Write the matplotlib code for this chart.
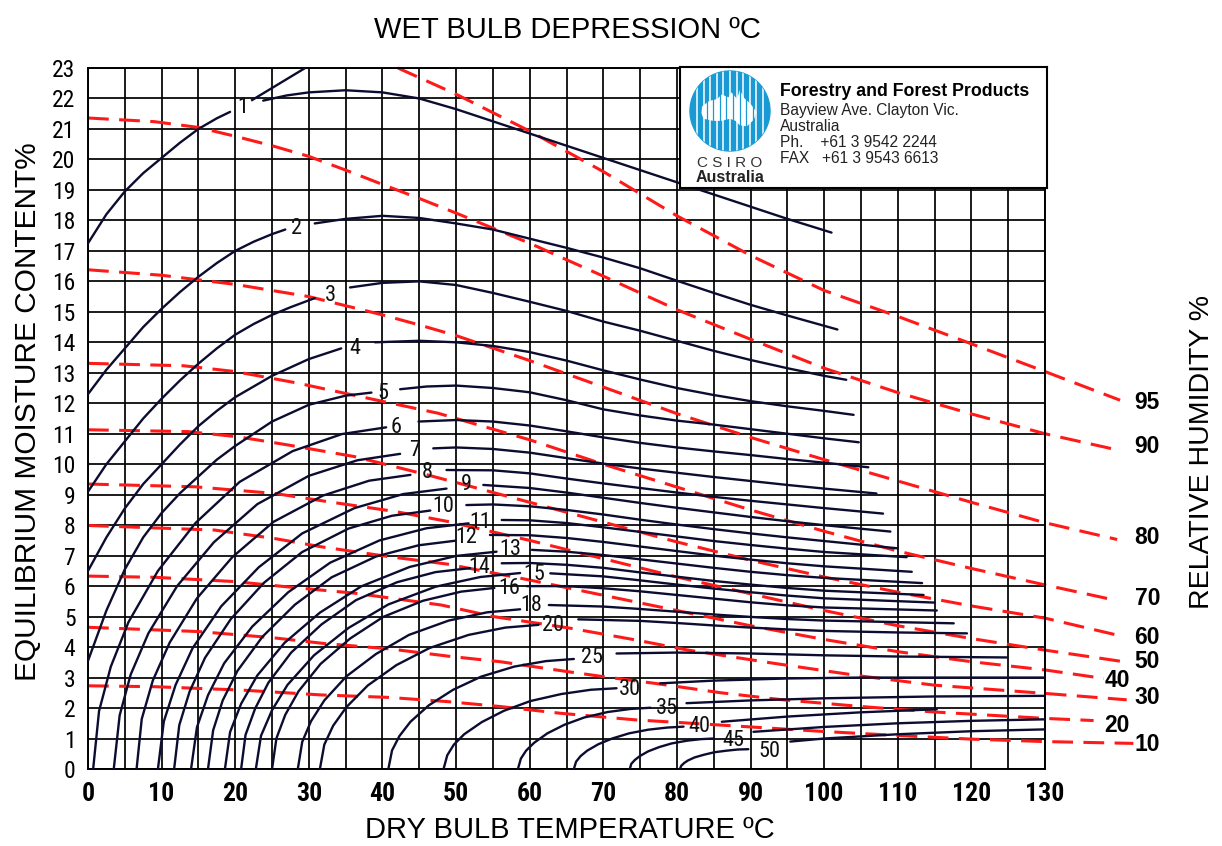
import matplotlib
matplotlib.use("Agg")
import matplotlib.pyplot as plt
from matplotlib import font_manager
from matplotlib.patches import Circle, Polygon
import numpy as np

# wet bulb depression curves, (dry bulb degC, EMC %); each curve is split
# where its number label sits: *_rise runs up to the label, *_fall after it
wb01_rise = [(0, 17.25), (2.5, 18.2), (5, 18.95), (7.5, 19.55), (10, 20.05), (12.5, 20.55),
             (15, 21.0), (17.5, 21.35), (19.3, 21.56)]
wb01_fall = [(23.8, 21.93), (27, 22.1), (30, 22.2), (35, 22.27), (40, 22.2), (45, 22.0),
             (50, 21.65), (55, 21.25), (60, 20.85), (65, 20.45), (70, 20.05), (75, 19.65),
             (80, 19.25), (85, 18.85), (90, 18.45), (95, 18.05), (101, 17.6)]
wb01_spur = [(22.3, 21.95), (29.5, 23.0)]
wb02_rise = [(0, 12.3), (2.5, 13.1), (5, 13.8), (7.5, 14.5), (10, 15.1), (12.5, 15.65), (15, 16.15),
             (17.5, 16.6), (20, 17.0), (22.5, 17.3), (25, 17.55), (26.8, 17.7)]
wb02_fall = [(30.8, 17.9), (35, 18.05), (40, 18.15), (45, 18.08), (50, 17.9), (55, 17.7), (60, 17.4),
             (65, 17.1), (70, 16.78), (75, 16.43), (80, 16.02), (85, 15.62), (90, 15.23),
             (95, 14.88), (101.8, 14.42)]
wb03_rise = [(0, 9.1), (2.5, 10.0), (5, 10.75), (7.5, 11.5), (10, 12.15), (12.5, 12.75), (15, 13.3),
             (17.5, 13.8), (20, 14.25), (22.5, 14.6), (25, 14.9), (27.5, 15.15), (30.8, 15.45)]
wb03_fall = [(35.6, 15.8), (40, 15.95), (45, 16.0), (50, 15.88), (55, 15.62), (60, 15.33),
             (65, 15.03), (70, 14.68), (75, 14.38), (80, 14.05), (85, 13.72), (90, 13.42),
             (95, 13.15), (100, 12.9), (103, 12.77)]
wb04_rise = [(0, 6.5), (2.5, 7.6), (5, 8.55), (7.5, 9.35), (10, 10.0), (12.5, 10.65), (15, 11.25),
             (17.5, 11.75), (20, 12.2), (25, 12.9), (30, 13.45), (34.4, 13.8)]
wb04_fall = [(39, 14.0), (45, 14.05), (50, 14.0), (55, 13.88), (60, 13.68), (65, 13.4), (70, 13.08),
             (75, 12.78), (80, 12.5), (85, 12.27), (90, 12.07), (95, 11.9), (100, 11.75), (104, 11.62)]
wb05_rise = [(0, 3.55), (2.5, 5.2), (5, 6.55), (7.5, 7.6), (10, 8.4), (12.5, 9.05), (15, 9.6),
             (17.5, 10.15), (20, 10.6), (25, 11.4), (30, 11.95), (35, 12.25), (38.5, 12.35)]
wb05_fall = [(42.4, 12.46), (46, 12.55), (50, 12.58), (55, 12.5), (60, 12.36), (65, 12.1), (70, 11.8),
             (75, 11.6), (80, 11.43), (85, 11.3), (90, 11.15), (95, 11.0), (100, 10.85), (104.7, 10.72)]
wb06_rise = [(0.7, 0), (1.5, 1.9), (3.1, 3.36), (5.5, 4.82), (9.5, 6.5), (14.6, 8.07), (20.6, 9.42),
             (27.8, 10.43), (34.5, 10.99), (40.5, 11.21)]
wb06_fall = [(44.9, 11.4), (50, 11.45), (55, 11.4), (60, 11.27), (65, 11.08), (70, 10.88), (75, 10.7),
             (80, 10.55), (85, 10.42), (90, 10.3), (95, 10.17), (100, 10.05), (106, 9.9)]
wb07_rise = [(3.5, 0), (4.3, 1.76), (5.8, 3.1), (8.2, 4.45), (12.1, 6.0), (17.1, 7.44), (23.0, 8.69),
             (30.0, 9.62), (36.6, 10.13), (42.4, 10.34)]
wb07_fall = [(46.9, 10.52), (50, 10.55), (55, 10.5), (60, 10.38), (65, 10.2), (70, 10.02), (75, 9.86),
             (80, 9.72), (85, 9.58), (90, 9.45), (95, 9.32), (100, 9.2), (107.1, 9.04)]
wb08_rise = [(6.6, 0), (7.3, 1.64), (8.8, 2.9), (11.1, 4.15), (14.8, 5.6), (19.6, 6.95), (25.2, 8.11),
             (31.9, 8.97), (38.2, 9.46), (43.8, 9.65)]
wb08_fall = [(48.7, 9.81), (55, 9.8), (60, 9.7), (65, 9.53), (70, 9.37), (75, 9.22), (80, 9.07),
             (85, 8.93), (90, 8.8), (95, 8.68), (100, 8.56), (108, 8.38)]
wb09_rise = [(9.5, 0), (10.3, 1.56), (11.9, 2.76), (14.2, 3.96), (18.1, 5.34), (23.2, 6.62),
             (29.1, 7.73), (36.2, 8.56), (42.8, 9.02), (48.7, 9.2)]
wb09_fall = [(53.7, 9.32), (60, 9.22), (65, 9.07), (70, 8.9), (75, 8.73), (80, 8.57), (85, 8.42),
             (90, 8.27), (95, 8.13), (100, 8.0), (109, 7.79)]
wb10_rise = [(11.7, 0), (12.4, 1.44), (13.8, 2.54), (15.9, 3.65), (19.4, 4.92), (23.9, 6.11),
             (29.1, 7.12), (35.4, 7.89), (41.3, 8.31), (46.5, 8.48)]
wb10_fall = [(51.4, 8.66), (55, 8.68), (60, 8.62), (65, 8.5), (70, 8.35), (75, 8.18), (80, 8.02),
             (85, 7.87), (90, 7.73), (95, 7.6), (100, 7.48), (110, 7.24)]
wb11_rise = [(14.0, 0), (14.8, 1.37), (16.3, 2.42), (18.5, 3.47), (22.3, 4.67), (27.2, 5.8),
             (32.9, 6.77), (39.6, 7.5), (46.0, 7.9), (51.7, 8.06)]
wb11_fall = [(56.2, 8.17), (60, 8.16), (65, 8.07), (70, 7.93), (75, 7.78), (80, 7.63), (85, 7.48),
             (90, 7.35), (95, 7.23), (100, 7.12), (111.2, 6.95)]
wb12_rise = [(16.3, 0), (17.0, 1.27), (18.3, 2.25), (20.3, 3.22), (23.7, 4.34), (28.1, 5.39),
             (33.1, 6.29), (39.1, 6.97), (44.9, 7.34), (49.9, 7.49)]
wb12_fall = [(54.6, 7.68), (60, 7.67), (65, 7.58), (70, 7.45), (75, 7.3), (80, 7.15), (85, 7.0),
             (90, 6.87), (95, 6.75), (100, 6.65), (111.9, 6.47)]
wb13_rise = [(18.6, 0), (19.3, 1.21), (20.8, 2.14), (23.0, 3.07), (26.7, 4.14), (31.5, 5.13),
             (37.1, 5.99), (43.7, 6.63), (50.0, 6.99), (55.5, 7.13)]
wb13_fall = [(60.3, 7.19), (65, 7.13), (70, 7.02), (75, 6.88), (80, 6.74), (85, 6.6), (90, 6.47),
             (95, 6.36), (100, 6.27), (113.3, 6.1)]
wb14_rise = [(20.8, 0), (21.4, 1.12), (22.7, 1.98), (24.5, 2.83), (27.6, 3.82), (31.7, 4.74),
             (36.4, 5.54), (42.0, 6.13), (47.2, 6.46), (51.9, 6.59)]
wb14_fall = [(56.2, 6.75), (60, 6.76), (65, 6.7), (70, 6.6), (75, 6.45), (80, 6.31), (85, 6.17),
             (90, 6.05), (95, 5.94), (100, 5.85), (113.5, 5.71)]
wb15_rise = [(22.8, 0), (23.5, 1.09), (25.0, 1.93), (27.1, 2.76), (30.7, 3.73), (35.4, 4.63),
             (40.8, 5.4), (47.2, 5.98), (53.3, 6.3), (58.7, 6.43)]
wb15_fall = [(62.8, 6.42), (70, 6.32), (75, 6.19), (80, 6.05), (85, 5.92), (90, 5.8), (95, 5.69),
             (100, 5.6), (115, 5.46)]
wb16_rise = [(25.0, 0), (25.6, 1.01), (26.8, 1.78), (28.6, 2.55), (31.6, 3.45), (35.6, 4.28),
             (40.1, 4.99), (45.5, 5.52), (50.7, 5.82), (55.2, 5.94)]
wb16_fall = [(59.6, 6.0), (65, 6.0), (70, 5.93), (75, 5.83), (80, 5.71), (85, 5.59), (90, 5.47),
             (95, 5.37), (100, 5.3), (115.3, 5.2)]
wb18_rise = [(28.5, 0), (29.1, 0.89), (30.3, 1.57), (32.1, 2.25), (35.1, 3.04), (39.1, 3.77),
             (43.6, 4.4), (49.0, 4.87), (54.2, 5.14), (58.7, 5.24)]
wb18_fall = [(62.6, 5.38), (70, 5.33), (75, 5.25), (80, 5.16), (85, 5.07), (90, 4.99), (95, 4.92),
             (100, 4.87), (117.6, 4.78)]
wb20_rise = [(31.5, 0), (32.1, 0.8), (33.3, 1.42), (35.1, 2.03), (38.0, 2.74), (41.9, 3.41),
             (46.4, 3.97), (51.7, 4.4), (56.7, 4.64), (61.2, 4.73)]
wb20_fall = [(66.6, 4.91), (75, 4.86), (80, 4.79), (85, 4.71), (90, 4.64), (95, 4.58), (100, 4.53),
             (110, 4.48), (119.4, 4.45)]
wb25_rise = [(40.8, 0), (41.3, 0.61), (42.3, 1.08), (43.8, 1.55), (46.3, 2.09), (49.6, 2.6),
             (53.4, 3.03), (57.9, 3.36), (62.2, 3.54), (66.0, 3.61)]
wb25_fall = [(71.8, 3.79), (80, 3.82), (90, 3.79), (100, 3.73), (110, 3.69), (124.8, 3.66)]
wb30_rise = [(48.3, 0), (48.8, 0.45), (49.7, 0.8), (51.1, 1.14), (53.5, 1.54), (56.5, 1.91),
             (60.1, 2.23), (64.3, 2.46), (68.3, 2.6), (71.8, 2.65)]
wb30_fall = [(77.7, 2.81), (85, 2.9), (95, 2.97), (105, 3.0), (130, 3.0)]
wb35_rise = [(58.4, 0), (58.8, 0.34), (59.5, 0.6), (60.6, 0.86), (62.4, 1.17), (64.7, 1.45),
             (67.4, 1.69), (70.6, 1.87), (73.7, 1.97), (76.4, 2.01)]
wb35_fall = [(81.3, 2.16), (90, 2.25), (100, 2.32), (115, 2.38), (130, 2.4)]
wb40_rise = [(66.0, 0), (66.3, 0.24), (66.9, 0.42), (67.8, 0.6), (69.3, 0.81), (71.2, 1.0),
             (73.5, 1.17), (76.1, 1.29), (78.7, 1.36), (80.9, 1.39)]
wb40_fall = [(86.1, 1.55), (95, 1.72), (105, 1.86), (115.3, 1.96)]
wb45_rise = [(73.6, 0), (73.8, 0.17), (74.3, 0.3), (75.0, 0.43), (76.1, 0.58), (77.6, 0.72),
             (79.3, 0.84), (81.4, 0.93), (83.3, 0.98), (85.0, 1.0)]
wb45_fall = [(90.4, 1.22), (100, 1.38), (110, 1.5), (120, 1.58), (130, 1.63)]
wb50_rise = [(80.4, 0), (80.6, 0.11), (81.0, 0.2), (81.5, 0.28), (82.4, 0.38), (83.7, 0.47),
             (85.1, 0.55), (86.7, 0.6), (88.3, 0.64), (89.7, 0.65)]
wb50_fall = [(95.4, 0.9), (100, 1.0), (110, 1.14), (120, 1.24), (130, 1.3)]

depressions = [1, 2, 3, 4, 5, 6, 7, 8, 9, 10, 11, 12, 13, 14, 15, 16, 18, 20, 25, 30, 35, 40, 45, 50]
label_T = [21.0, 28.3, 33.0, 36.3, 40.0, 41.9, 44.4, 46.1, 51.4, 48.2, 53.3, 51.4, 57.4, 53.2,
           60.6, 57.2, 60.2, 63.2, 68.5, 73.6, 78.6, 83.1, 87.7, 92.6]
label_M = [21.7, 17.72, 15.55, 13.8, 12.32, 11.22, 10.45, 9.73, 9.33, 8.6, 8.1, 7.6, 7.19, 6.61,
           6.38, 5.93, 5.35, 4.7, 3.65, 2.6, 2.0, 1.39, 0.95, 0.56]

# relative humidity lines (dashed), (dry bulb degC, EMC %)
rh95 = [(42.1, 23.0), (50, 22.14), (60, 20.93), (70, 19.6), (80, 18.15), (90, 16.85), (100, 15.7),
        (110, 14.85), (120, 13.95), (130, 13.04), (140.2, 12.1)]
rh90 = [(0, 21.36), (9, 21.24), (15, 21.05), (20, 20.76), (25, 20.45), (30, 20.1), (35, 19.65),
        (40, 19.18), (45, 18.72), (50, 18.24), (60, 17.25), (70, 16.17), (80, 15.07), (90, 14.1),
        (100, 13.15), (110, 12.35), (120, 11.65), (130, 11.0), (139.8, 10.47)]
rh80 = [(0, 16.38), (10, 16.2), (15, 16.05), (20, 15.9), (25, 15.7), (30, 15.5), (35, 15.2),
        (40, 14.9), (45, 14.57), (50, 14.22), (60, 13.4), (70, 12.53), (80, 11.66), (90, 10.88),
        (100, 10.15), (110, 9.45), (120, 8.75), (130, 8.08), (139.8, 7.53)]
rh70 = [(0, 13.31), (13, 13.23), (20, 13.04), (28.5, 12.66), (36, 12.27), (47.6, 11.67), (60, 10.8),
        (70, 10.0), (80, 9.25), (90, 8.5), (100, 7.8), (110, 7.15), (120, 6.58), (130, 6.04),
        (139.5, 5.54)]
rh60 = [(0, 11.13), (13.6, 11.07), (20.4, 10.9), (27.2, 10.63), (36.2, 10.25), (45.3, 9.7),
        (50, 9.4), (60, 8.75), (70, 8.1), (80, 7.45), (90, 6.85), (100, 6.3), (110, 5.8),
        (120, 5.35), (130, 4.95), (140.4, 4.36)]
rh50 = [(0, 9.35), (14.5, 9.26), (25.4, 9.04), (32.6, 8.77), (41.7, 8.45), (48.9, 8.12), (60, 7.5),
        (70, 6.9), (80, 6.3), (90, 5.75), (100, 5.2), (110, 4.7), (120, 4.28), (130, 3.9),
        (140.7, 3.52)]
rh40 = [(0, 7.99), (17.2, 7.84), (25.4, 7.56), (31.7, 7.29), (40.8, 6.97), (48.9, 6.72), (60, 6.2),
        (70, 5.7), (80, 5.2), (90, 4.7), (100, 4.25), (110, 3.85), (120, 3.52), (130, 3.25),
        (138, 2.97)]
rh30 = [(0, 6.33), (9.1, 6.29), (19.9, 6.15), (29, 5.93), (36.2, 5.77), (48, 5.38), (55.1, 5.0),
        (65.5, 4.62), (74.5, 4.23), (81.3, 3.91), (93.1, 3.47), (105, 3.05), (115, 2.75),
        (130, 2.48), (141.1, 2.27)]
rh20 = [(0, 4.65), (15, 4.51), (25, 4.31), (32, 4.12), (41, 3.94), (49, 3.7), (56, 3.52), (65, 3.2),
        (70, 3.03), (77, 2.81), (86, 2.5), (94, 2.28), (105, 2.05), (115, 1.87), (130, 1.66),
        (136.6, 1.59)]
rh10 = [(0, 2.73), (9.1, 2.7), (20.8, 2.59), (31.7, 2.43), (40.8, 2.35), (48.9, 2.21), (56, 2.05),
        (64.1, 1.83), (74.5, 1.61), (80, 1.53), (90, 1.38), (100, 1.23), (110, 1.1), (120, 0.98),
        (130, 0.9), (142, 0.84)]
rh_levels = [95, 90, 80, 70, 60, 50, 40, 30, 20, 10]
rh_label_T = [143.9, 143.9, 143.9, 143.9, 143.9, 143.9, 139.8, 143.9, 139.8, 143.9]
rh_label_M = [12.04, 10.57, 7.58, 5.61, 4.3, 3.54, 2.92, 2.33, 1.44, 0.79]

x_ticks = list(range(0, 131, 10))
y_ticks = list(range(0, 24))

address_lines = ["Bayview Ave. Clayton Vic.", "Australia", "Ph.    +61 3 9542 2244",
                 "FAX   +61 3 9543 6613"]


def pick_family(*names):
    have = {f.name for f in font_manager.fontManager.ttflist}
    for n in names:
        if n in have:
            return n
    return "DejaVu Sans"


SANS = pick_family("Liberation Sans", "Arimo", "DejaVu Sans")
NARROW = pick_family("Roboto Condensed", "Liberation Sans Narrow", SANS)

CURVE = "#0c0c30"
RED = "#ff1a1a"

wet_bulb = [
    (wb01_rise, wb01_fall), (wb02_rise, wb02_fall), (wb03_rise, wb03_fall), (wb04_rise, wb04_fall),
    (wb05_rise, wb05_fall), (wb06_rise, wb06_fall), (wb07_rise, wb07_fall), (wb08_rise, wb08_fall),
    (wb09_rise, wb09_fall), (wb10_rise, wb10_fall), (wb11_rise, wb11_fall), (wb12_rise, wb12_fall),
    (wb13_rise, wb13_fall), (wb14_rise, wb14_fall), (wb15_rise, wb15_fall), (wb16_rise, wb16_fall),
    (wb18_rise, wb18_fall), (wb20_rise, wb20_fall), (wb25_rise, wb25_fall), (wb30_rise, wb30_fall),
    (wb35_rise, wb35_fall), (wb40_rise, wb40_fall), (wb45_rise, wb45_fall), (wb50_rise, wb50_fall),
]
rh_lines = [rh95, rh90, rh80, rh70, rh60, rh50, rh40, rh30, rh20, rh10]

W, H = 1222, 846
fig = plt.figure(figsize=(W / 100, H / 100), dpi=100)
fig.patch.set_facecolor("white")
ax = fig.add_axes([88 / W, 77 / H, 957 / W, 701 / H])
ax.set_xlim(0, 130)
ax.set_ylim(0, 23)

# chart grid: every 5 degC and every 1 % EMC
ax.vlines(np.arange(0, 131, 5), 0, 23, color="black", lw=1.25, zorder=1)
ax.hlines(np.arange(0, 24, 1), 0, 130, color="black", lw=1.25, zorder=1)
for s in ax.spines.values():
    s.set_linewidth(1.4)

ax.set_xticks(x_ticks)
ax.set_xticklabels([str(v) for v in x_ticks], family=NARROW, fontweight="bold", fontsize=18.5)
ax.set_yticks(y_ticks)
ax.set_yticklabels([str(v) for v in y_ticks], family=NARROW, fontsize=17)
ax.tick_params(axis="x", length=0, pad=9)
ax.tick_params(axis="y", length=0, pad=9)

for rise, fall in wet_bulb:
    for seg in (rise, fall):
        t, m = zip(*seg)
        ax.plot(t, m, color=CURVE, lw=1.7, solid_capstyle="round", zorder=3)
t, m = zip(*wb01_spur)
ax.plot(t, m, color=CURVE, lw=1.7, zorder=3)

for d, lt, lm in zip(depressions, label_T, label_M):
    ax.text(lt, lm, str(d), family=NARROW, fontsize=16, ha="center", va="center",
            color="#101010", zorder=4)

for line, lvl, lt, lm in zip(rh_lines, rh_levels, rh_label_T, rh_label_M):
    t, m = zip(*line)
    ax.plot(t, m, color=RED, lw=2.2, linestyle=(0, (6.8, 3.4)), clip_on=False, zorder=2)
    ax.text(lt, lm, str(lvl), family=SANS, fontweight="bold", fontsize=16.5,
            ha="center", va="center", clip_on=False)

fig.text(567 / W, 1 - 30 / H, "WET BULB DEPRESSION \u00baC", family=SANS, fontsize=21,
         ha="center", va="center")
fig.text(570 / W, 1 - 830 / H, "DRY BULB TEMPERATURE \u00baC", family=SANS, fontsize=21,
         ha="center", va="center")
fig.text(28 / W, 1 - 412 / H, "EQUILIBRIUM MOISTURE CONTENT%", family=SANS, fontsize=21.5,
         rotation=90, ha="center", va="center")
fig.text(1202 / W, 1 - 452 / H, "RELATIVE HUMIDITY %", family=SANS, fontsize=20.5,
         rotation=90, ha="center", va="center")

# CSIRO address panel in the top right corner
bx = fig.add_axes([680 / W, 1 - 188 / H, 367 / W, 121 / H], zorder=5)
bx.set_xlim(0, 367)
bx.set_ylim(121, 0)
bx.set_xticks([])
bx.set_yticks([])
bx.set_facecolor("white")
for s in bx.spines.values():
    s.set_linewidth(1.5)

BLUE = "#1a9ad5"
cx, cy, r = 50, 44, 40
disc = Circle((cx, cy), r, color=BLUE, zorder=1)
bx.add_patch(disc)
for x in np.arange(cx - 33, cx + 34, 6.6):
    ln, = bx.plot([x, x], [cy - r, cy + r], color="white", lw=1.1, zorder=2)
    ln.set_clip_path(disc)
oz = [(-1.0, 0.2), (-0.75, 0.45), (-0.45, 0.55), (-0.3, 0.75), (-0.05, 0.62), (0.05, 0.85),
      (0.25, 0.55), (0.35, 0.95), (0.5, 0.6), (0.75, 0.3), (0.95, -0.05), (0.85, -0.4),
      (0.6, -0.7), (0.35, -0.65), (0.2, -0.45), (0.0, -0.35), (-0.3, -0.45), (-0.6, -0.45),
      (-0.95, -0.35), (-1.02, -0.1)]
bx.add_patch(Polygon([(cx + 28 * a, cy - 22 * b) for a, b in oz], closed=True,
                     facecolor="white", edgecolor="none", zorder=3))
for x in np.arange(cx - 30, cx + 31, 6.6):
    bx.plot([x, x], [cy - 25, cy + 25], color=BLUE, lw=0.9, zorder=4)

bx.text(cx, 96, "C S I R O", family=SANS, fontsize=11, color="#333333", ha="center", va="center")
bx.text(cx, 110, "Australia", family=SANS, fontweight="bold", fontsize=11.5, color="#222222",
        ha="center", va="center")
bx.text(100, 25, "Forestry and Forest Products", family=SANS, fontweight="bold", fontsize=12.8,
        va="center")
for i, txt in enumerate(address_lines):
    bx.text(100, 43 + 16.2 * i, txt, family=SANS, fontsize=11.2, color="#222222", va="center")

fig.savefig("out.png", dpi=100, facecolor="white")
